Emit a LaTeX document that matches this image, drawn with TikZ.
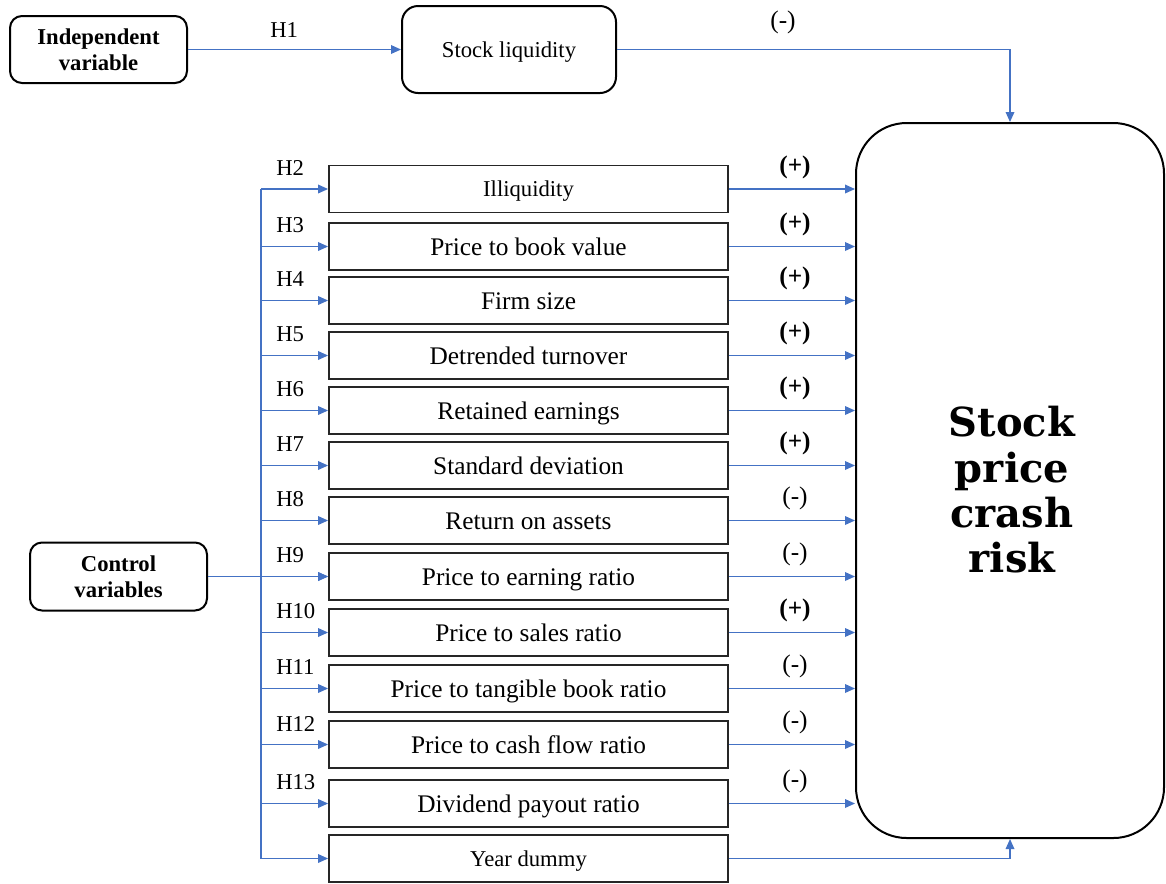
\documentclass[tikz,border=0pt]{standalone}
\usepackage{fontspec}
\setmainfont{LiberationSerif}[Extension=.ttf, UprightFont=*-Regular, BoldFont=*-Bold, ItalicFont=*-Italic, BoldItalicFont=*-BoldItalic]
\newfontfamily\crashfont{DejaVu Serif}
\usetikzlibrary{arrows.meta}
\definecolor{lineblue}{HTML}{4472C4}
\tikzset{
  rbox/.style={draw=black, line width=1.5pt, rounded corners=9pt, align=center, inner sep=0pt},
  vbox/.style={draw=black!85, line width=1.4pt, minimum width=399*0.75pt, minimum height=47*0.75pt, inner sep=0pt, text depth=0pt},
  conn/.style={draw=lineblue, line width=0.95pt, -{Triangle[length=7.5pt,width=6.5pt]}},
  plainline/.style={draw=lineblue, line width=0.95pt},
  hlab/.style={font=\fontsize{17}{20}\selectfont, anchor=west, inner sep=0pt},
  slab/.style={font=\fontsize{19}{22}\selectfont, inner sep=0pt},
  boldlab/.style={font=\bfseries\fontsize{17}{20}\selectfont}
}
\begin{document}
\begin{tikzpicture}[x=0.75pt,y=-0.75pt]
\useasboundingbox (0,0) rectangle (1166,883);
% top row
\node[rbox, boldlab, minimum width=177*0.75pt, minimum height=67*0.75pt, text depth=0pt] (indep) at (98.5,49.5) {Independent\\variable};
\node[rbox, rounded corners=12pt, minimum width=214*0.75pt, minimum height=87*0.75pt, text height=11.5pt, text depth=0pt, font=\fontsize{17}{20}\selectfont] (liq) at (509,49.5) {Stock liquidity};
\node[rbox, boldlab, minimum width=177*0.75pt, minimum height=68*0.75pt, text depth=0pt] (ctrl) at (118.5,576.5) {Control\\variables};
% big box
\node[draw=black, line width=1.5pt, rounded corners=38pt, minimum width=308*0.75pt, minimum height=715*0.75pt] (risk) at (1010,480.5) {};
\node[font=\crashfont\bfseries\fontsize{30}{34}\selectfont, align=center] (risktext) at (1012,490) {Stock\\price\\crash\\risk};
% H1
\draw[conn] (indep.east) -- (liq.west);
\node[hlab] (h1) at (270,30) {H1};
\draw[conn] (liq.east) -| (risk.north);
\node[slab] (m0) at (783,22) {(-)};
% rows
\foreach \i/\yc/\t/\fs/\th/\h/\s in {
  1/189/Illiquidity/17/11.5/H2/{\textbf{(+)}},
  2/246.5/Price to book value/19/12.8/H3/{\textbf{(+)}},
  3/300.5/Firm size/19/12.8/H4/{\textbf{(+)}},
  4/355.5/Detrended turnover/19/12.8/H5/{\textbf{(+)}},
  5/410.5/Retained earnings/19/12.8/H6/{\textbf{(+)}},
  6/465.5/Standard deviation/19/12.8/H7/{\textbf{(+)}},
  7/520.5/Return on assets/19/12.8/H8/{(-)},
  8/576.5/Price to earning ratio/19/12.8/H9/{(-)},
  9/632.5/Price to sales ratio/19/12.8/H10/{\textbf{(+)}},
  10/688.5/Price to tangible book ratio/19/12.8/H11/{(-)},
  11/744.5/Price to cash flow ratio/19/12.8/H12/{(-)},
  12/803.5/Dividend payout ratio/19/12.8/H13/{(-)}}{
  \node[vbox, text height=\th pt, font=\fontsize{\fs}{\fs}\selectfont] (r\i) at (528.5,\yc) {\t};
  \coordinate (b\i) at (261,\yc);
  \draw[conn] (b\i) -- (r\i.west);
  \node[hlab] (h\i) at (276,\yc-21) {\h};
  \draw[conn] (r\i.east) -- (r\i.east -| risk.west);
  \node[slab] (s\i) at (795,\yc-22) {\s};
}
\node[vbox, text height=11.5pt, font=\fontsize{17}{17}\selectfont] (r13) at (528.5,858.5) {Year dummy};
\coordinate (b13) at (261,858.5);
\draw[conn] (b13) -- (r13.west);
\draw[conn] (r13.east) -| (risk.south);
\draw[plainline] (b1) -- (b13);
\draw[conn] (ctrl.east) -- (r8.west);
\end{tikzpicture}
\end{document}
